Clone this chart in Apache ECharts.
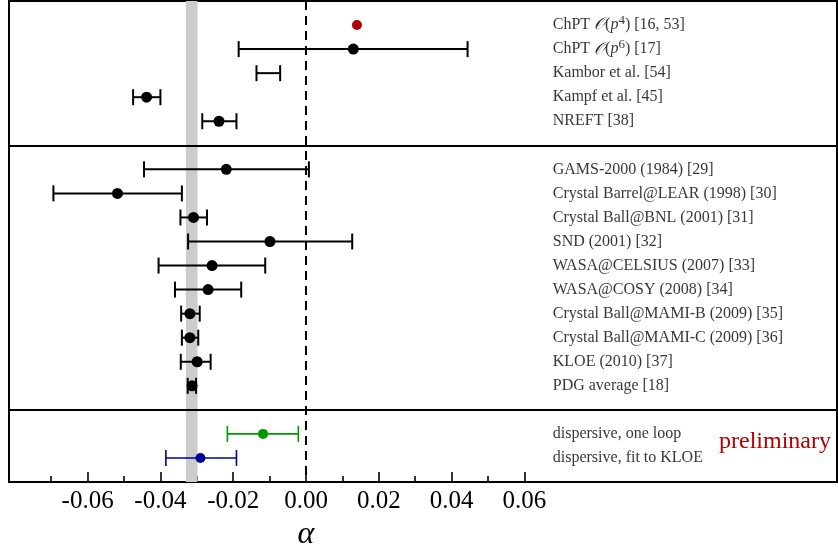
<!DOCTYPE html>
<html>
<head>
<meta charset="utf-8">
<script src="https://cdn.jsdelivr.net/npm/echarts@6/dist/echarts.min.js"></script>
<style>
  html, body { margin: 0; padding: 0; background: #fff; }
  #chart { width: 838px; height: 548px; }
</style>
</head>
<body>
<div id="chart"></div>
<script>
// theory predictions (top block)
var theoryNames = ['ChPT 𝒪(p⁴) [16, 53]', 'ChPT 𝒪(p⁶) [17]', 'Kambor et al. [54]', 'Kampf et al. [45]', 'NREFT [38]'];
var theoryValues = [0.0140, 0.0130, null, -0.0438, -0.0239];
var theoryLow = [null, -0.0185, -0.0136, -0.0475, -0.0285];
var theoryHigh = [null, 0.0444, -0.0071, -0.0400, -0.0191];

// experiments (middle block)
var exptNames = ['GAMS-2000 (1984) [29]', 'Crystal Barrel@LEAR (1998) [30]', 'Crystal Ball@BNL (2001) [31]',
    'SND (2001) [32]', 'WASA@CELSIUS (2007) [33]', 'WASA@COSY (2008) [34]', 'Crystal Ball@MAMI-B (2009) [35]',
    'Crystal Ball@MAMI-C (2009) [36]', 'KLOE (2010) [37]', 'PDG average [18]'];
var exptValues = [-0.0219, -0.0518, -0.0309, -0.0099, -0.0258, -0.0269, -0.0319, -0.0319, -0.0299, -0.0313];
var exptLow = [-0.0445, -0.0694, -0.0345, -0.0324, -0.0405, -0.0360, -0.0343, -0.0341, -0.0344, -0.0325];
var exptHigh = [0.0008, -0.0341, -0.0272, 0.0127, -0.0112, -0.0178, -0.0292, -0.0296, -0.0262, -0.0302];

// dispersive results (bottom block)
var dispNames = ['dispersive, one loop', 'dispersive, fit to KLOE'];
var dispValues = [-0.0118, -0.0290];
var dispLow = [-0.0216, -0.0385];
var dispHigh = [-0.0021, -0.0191];

var pdgBand = [-0.0330, -0.0298];
var majorTicks = [-0.06, 0.06, 0.02];
var minorTicks = [-0.07, 0.05, 0.02];

// styles
var theoryDotColors = ['#b00000', '#000', '#000', '#000', '#000'];
var dispColors = ['#009900', '#000099'];
var labelX = 0.0678;
var serif = '"Liberation Serif", "Times New Roman", serif';

var groups = [
    {names: theoryNames, values: theoryValues, low: theoryLow, high: theoryHigh, colors: theoryDotColors, bar: '#000', lw: 2},
    {names: exptNames, values: exptValues, low: exptLow, high: exptHigh, colors: null, bar: '#000', lw: 2},
    {names: dispNames, values: dispValues, low: dispLow, high: dispHigh, colors: dispColors, bar: null, lw: 1.6}
];

var barData = [], dotData = [], labelData = [], separators = [];
var row = 1;
groups.forEach(function (g, gi) {
    g.names.forEach(function (name, i) {
        var r = row + i;
        var c = g.colors ? g.colors[i] : '#000';
        if (g.low[i] != null) {
            barData.push({value: [g.low[i], g.high[i], r], itemStyle: {color: g.bar || c}, lw: g.lw});
        }
        if (g.values[i] != null) {
            dotData.push({value: [g.values[i], r], itemStyle: {color: c, opacity: 1}, symbolSize: c === '#000' ? 11 : 10});
        }
        labelData.push({value: [labelX, r], name: name});
    });
    row += g.names.length;
    if (gi < groups.length - 1) separators.push({yAxis: row});
    row += 1;
});

function richName(name) {
    return name.replace('𝒪', '{o|𝒪}').replace(/\(p([⁴⁶])\)/, function (m, s) {
        return '({i|p}{s|' + (s === '⁴' ? '4' : '6') + '})';
    });
}

function renderBar(params, api) {
    var a = api.coord([api.value(0), api.value(2)]);
    var b = api.coord([api.value(1), api.value(2)]);
    var color = api.visual('color');
    var lw = barData[params.dataIndex].lw;
    var cap = 8;
    var style = {stroke: color, lineWidth: lw};
    return {
        type: 'group',
        children: [
            {type: 'line', shape: {x1: a[0], y1: a[1], x2: b[0], y2: b[1]}, style: style},
            {type: 'line', shape: {x1: a[0], y1: a[1] - cap, x2: a[0], y2: a[1] + cap}, style: style},
            {type: 'line', shape: {x1: b[0], y1: b[1] - cap, x2: b[0], y2: b[1] + cap}, style: style}
        ]
    };
}

var chart = echarts.init(document.getElementById('chart'));

var gridBase = {top: 1, bottom: 66, containLabel: false, outerBoundsMode: 'none'};
var option = {
    animation: false,
    backgroundColor: '#fff',
    grid: [
        Object.assign({left: 9, right: 1, show: true, borderColor: '#000', borderWidth: 2, backgroundColor: 'transparent'}, gridBase),
        Object.assign({left: 87.6, right: 313.6}, gridBase),
        Object.assign({left: 51.2, right: 350}, gridBase)
    ],
    xAxis: [
        {type: 'value', gridIndex: 0, min: -0.0816, max: 0.1459, show: false},
        {
            type: 'value', gridIndex: 1, min: majorTicks[0], max: majorTicks[1], interval: majorTicks[2],
            position: 'bottom', axisLine: {show: false, onZero: false}, splitLine: {show: false},
            axisTick: {show: true, inside: true, length: 10, lineStyle: {color: '#000', width: 1.6}},
            axisLabel: {
                color: '#000', fontFamily: serif, fontSize: 25, margin: 7,
                formatter: function (v) { return Math.abs(v) < 1e-9 ? '0.00' : v.toFixed(2); }
            },
            name: 'α', nameLocation: 'middle', nameGap: 30,
            nameTextStyle: {color: '#000', fontFamily: serif, fontStyle: 'italic', fontSize: 32}
        },
        {
            type: 'value', gridIndex: 2, min: minorTicks[0], max: minorTicks[1], interval: minorTicks[2],
            position: 'bottom', axisLine: {show: false, onZero: false}, splitLine: {show: false}, axisLabel: {show: false},
            axisTick: {show: true, inside: true, length: 6, lineStyle: {color: '#000', width: 1.6}}
        }
    ],
    yAxis: [
        {type: 'value', gridIndex: 0, min: 0, max: 20, inverse: true, show: false},
        {type: 'value', gridIndex: 1, min: 0, max: 1, show: false},
        {type: 'value', gridIndex: 2, min: 0, max: 1, show: false}
    ],
    graphic: [{
        type: 'text', left: 719, top: 430, z: 10,
        style: {text: 'preliminary', fill: '#b00000', font: '24px ' + serif}
    }],
    series: [
        {
            type: 'custom', name: 'bars', xAxisIndex: 0, yAxisIndex: 0, z: 3,
            renderItem: renderBar, encode: {x: [0, 1], y: 2},
            data: barData,
            markArea: {
                silent: true, z: 1,
                itemStyle: {color: '#cccccc'},
                data: [[{xAxis: pdgBand[0]}, {xAxis: pdgBand[1]}]]
            },
            markLine: {
                silent: true, symbol: 'none', label: {show: false},
                data: [
                    {xAxis: 0, lineStyle: {color: '#000', width: 2, type: [9, 6]}}
                ].concat(separators.map(function (s) {
                    return {yAxis: s.yAxis, lineStyle: {color: '#000', width: 2, type: 'solid'}};
                }))
            }
        },
        {
            type: 'scatter', name: 'dots', xAxisIndex: 0, yAxisIndex: 0, z: 4,
            symbol: 'circle', itemStyle: {opacity: 1}, data: dotData
        },
        {
            type: 'scatter', name: 'labels', xAxisIndex: 0, yAxisIndex: 0, z: 5,
            symbolSize: 0, silent: true, data: labelData,
            label: {
                show: true, position: [0, 0], align: 'left', verticalAlign: 'middle',
                color: '#000', fontFamily: serif, fontSize: 16,
                formatter: function (p) { return richName(p.name); },
                rich: {
                    o: {fontFamily: '"DejaVu Serif", serif', fontStyle: 'italic', fontSize: 17, color: '#000'},
                    i: {fontFamily: serif, fontStyle: 'italic', fontSize: 16, color: '#000'},
                    s: {fontFamily: serif, fontSize: 13, color: '#000', padding: [0, 0, 9, 0]}
                }
            }
        }
    ]
};

chart.setOption(option);
</script>
</body>
</html>
